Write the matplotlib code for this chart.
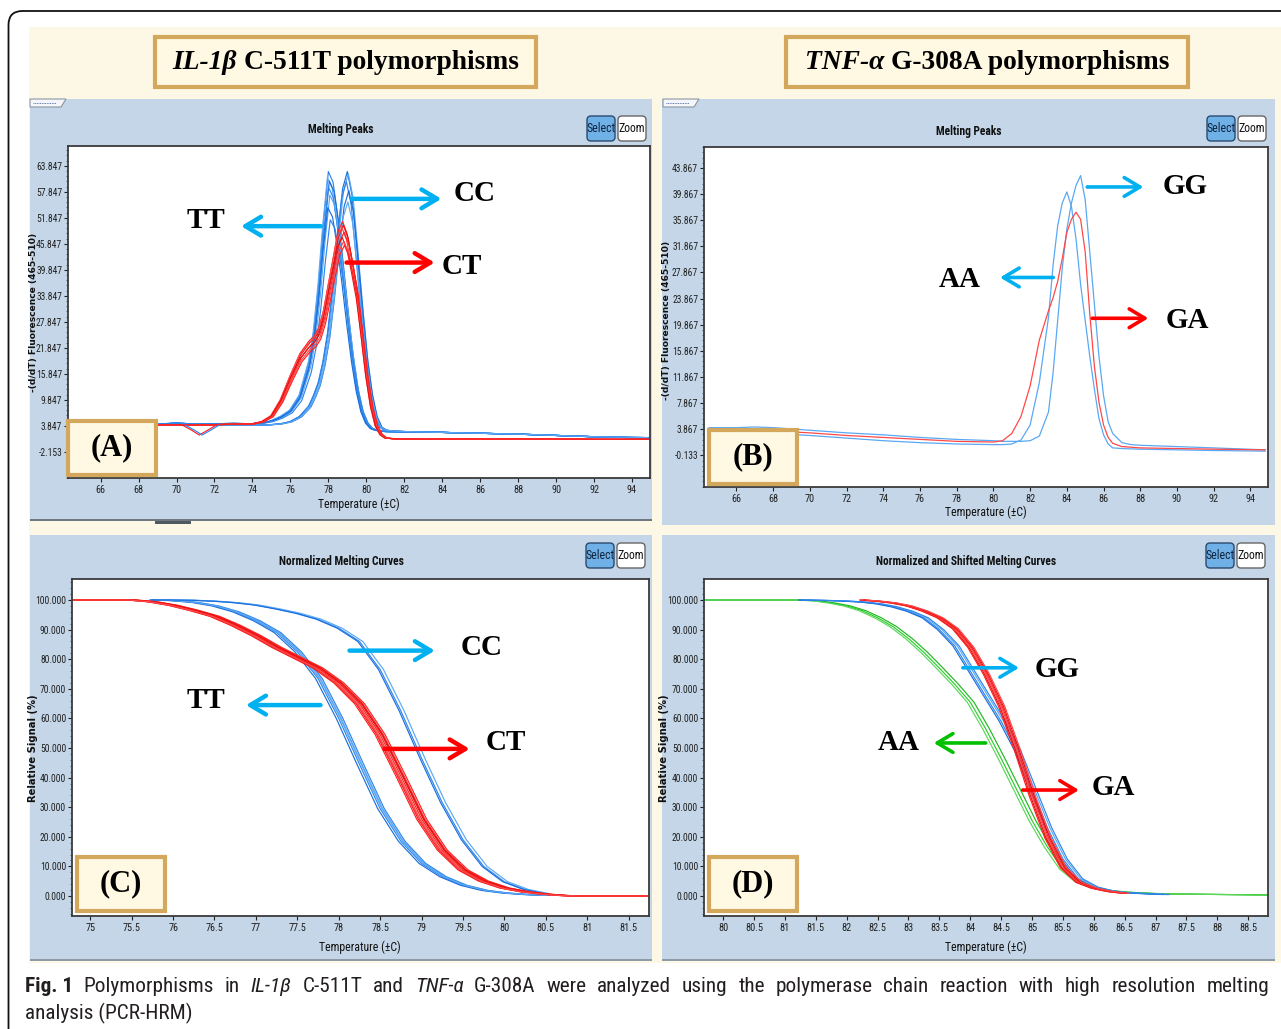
import numpy as np
import matplotlib
matplotlib.use("Agg")
import matplotlib.pyplot as plt
from matplotlib import font_manager
from matplotlib.patches import Rectangle, FancyBboxPatch, Polygon
from matplotlib.ticker import AutoMinorLocator

# ---------------- values ----------------
# (A) IL-1b C-511T, melting peaks  -(d/dT) fluorescence
temp_a = [64.5, 66, 67, 68, 69, 70, 71, 72, 73, 74, 74.5, 75, 75.5, 76, 76.5, 77, 77.25, 77.5,
          77.75, 78, 78.25, 78.5, 78.75, 79, 79.25, 79.5, 79.75, 80, 80.25, 80.5, 80.75, 81,
          81.5, 82, 84, 86, 88, 90, 92, 94.8]
tt_peak = [4.2, 4.3, 4.6, 4.4, 4.2, 4.5, 4.2, 4.3, 4.4, 4.3, 4.5, 5.0, 6.0, 7.5, 11, 19, 26, 37,
           51, 62.5, 60, 52, 42, 31, 21, 13, 7.5, 4.5, 3.2, 2.8, 2.6, 2.5,
           2.45, 2.4, 2.3, 2.1, 1.9, 1.6, 1.3, 1.0]
cc_peak = [4.0, 4.1, 4.1, 4.0, 4.0, 4.1, 4.0, 4.0, 4.0, 4.0, 4.0, 4.1, 4.3, 4.8, 6, 8.5, 11, 14,
           19, 26, 36, 48, 58.5, 62.5, 57, 45, 32, 20, 11.5, 6, 3.5, 2.8,
           2.6, 2.5, 2.3, 2.1, 1.9, 1.6, 1.3, 1.1]
ct_peak = [4.0, 4.0, 4.1, 4.0, 4.0, 4.1, 4.0, 4.1, 4.2, 4.3, 4.8, 6.2, 10, 15.5, 20.5, 23.5, 24.5, 26.5,
           30.5, 36.5, 42.5, 48.5, 51, 48, 42, 35.5, 26, 16, 8.5, 3.8, 1.8, 1.0,
           0.8, 0.8, 0.8, 0.8, 0.8, 0.8, 0.7, 0.7]
tt_heights = [62.5, 61.0, 60.2, 58.7, 56.7, 53.6, 50.6]
tt_shifts = [0.0, -0.05, 0.05, 0.0, 0.08, -0.03, 0.1]
cc_heights = [62.5, 62.0, 60.0, 57.8, 55.0]
cc_shifts = [0.0, 0.05, -0.05, 0.08, 0.03]
ct_heights = [51.0, 50.0, 49.5, 48.3, 47.0, 46.0, 45.0]
ct_shifts = [0.0, 0.04, -0.04, 0.08, -0.02, 0.06, 0.1]
dip_temp = [70.3, 70.8, 71.2, 71.6, 72.1]
dip_vals = [4.0, 2.8, 1.7, 2.7, 4.0]

# (B) TNF-a G-308A, melting peaks
temp_b = [64.5, 66, 67, 68, 70, 72, 74, 76, 78, 80, 80.5, 81, 81.5, 82, 82.5, 83, 83.25, 83.5,
          83.75, 84, 84.25, 84.5, 84.75, 85, 85.25, 85.5, 85.75, 86, 86.25, 86.5, 87, 87.5,
          88, 90, 92, 94.8]
gg_peak = [4.1, 4.1, 4.2, 4.1, 3.7, 3.3, 3.0, 2.6, 2.3, 2.1, 2.0, 2.0, 2.0, 2.1, 2.8, 6.5, 12.5, 20.5,
           28.5, 34.5, 38.5, 41.2, 42.7, 39, 31, 23, 15, 9, 5, 3.2, 1.8, 1.5,
           1.4, 1.2, 1.0, 0.7]
aa_peak = [3.4, 3.4, 3.3, 3.2, 2.9, 2.5, 2.1, 1.8, 1.6, 1.5, 1.5, 1.6, 2.2, 4.5, 11, 21, 29, 35,
           38.5, 40.2, 38, 33, 26, 20.5, 15, 10, 5.5, 3, 1.6, 1.0, 0.9, 0.85,
           0.8, 0.7, 0.6, 0.5]
ga_peak = [3.8, 3.8, 3.7, 3.6, 3.3, 2.9, 2.6, 2.3, 2.0, 1.9, 2.1, 3.2, 5.8, 10.5, 17.5, 22, 24, 26.5,
           30, 34, 36, 37.1, 36, 31, 21.5, 13.5, 8, 4.5, 2.6, 1.7, 1.2, 1.1,
           1.0, 0.9, 0.8, 0.7]

# (C) IL-1b normalized melting curves, relative signal (%)
nan = np.nan
temp_c = [74.6, 75.5, 75.75, 76, 76.25, 76.5, 76.75, 77, 77.25, 77.5, 77.75, 78, 78.25, 78.5,
          78.75, 79, 79.25, 79.5, 79.75, 80, 80.25, 80.5, 80.75, 81, 81.9]
tt_norm = [nan, nan, 100, 99.8, 99.2, 98, 96, 93, 89, 82.5, 73.5, 60, 44.5, 29.5,
           18.5, 11, 6.5, 3.6, 1.9, 1.0, 0.5, 0.2, nan, nan, nan]
cc_norm = [nan, nan, 100, 100, 99.9, 99.6, 99.1, 98.3, 97, 95.5, 93.5, 90.5, 86, 76.5,
           62.5, 46.5, 31.5, 19, 10, 4.8, 2.2, 0.8, nan, nan, nan]
ct_norm = [100, 100, 99.4, 98.2, 96.5, 94.5, 91.5, 88, 84, 80.5, 77, 72, 65, 54.5,
           40.5, 26, 15.5, 8.8, 5, 2.7, 1.4, 0.6, 0.1, 0, 0]
tt_norm_shifts = [0.0, 0.03, -0.03, 0.05, 0.02]
cc_norm_shifts = [0.0, 0.04, -0.02]
ct_norm_shifts = [-0.06, -0.04, -0.02, 0.0, 0.02, 0.04, 0.06, 0.03, -0.03]

# (D) TNF-a normalized and shifted melting curves
temp_d = [79.5, 81.25, 81.5, 81.75, 82, 82.25, 82.5, 82.75, 83, 83.25, 83.5, 83.75, 84, 84.25,
          84.5, 84.75, 85, 85.25, 85.5, 85.75, 86, 86.25, 86.5, 87, 87.15, 89.0]
aa_norm = [100, 100, 99.7, 99, 98, 96.4, 94, 91, 87, 82.3, 77, 71.5, 65.5, 56.5,
           46.5, 36, 25.5, 16.5, 9, 4.8, 2.8, 1.8, 1.3, 0.8, 0.7, 0.3]
gg_norm = [nan, 100, 99.9, 99.8, 99.6, 99.3, 98.7, 97.7, 96.2, 94, 90, 84.5, 76, 67.5,
           59, 49, 36, 23, 12.5, 5.8, 3, 1.7, 1.1, 0.6, 0.5, nan]
ga_norm = [nan, nan, nan, nan, nan, 100, 99.6, 99, 98, 96.3, 94, 90.3, 84, 75,
           64, 49.5, 33.5, 19.5, 9.5, 4.6, 2.6, 1.5, 0.9, nan, nan, nan]
aa_norm_shifts = [0.0, 0.06, -0.05]
gg_norm_shifts = [0.0, 0.04, -0.03, 0.07]
ga_norm_shifts = [-0.04, -0.02, 0.0, 0.02, 0.04, 0.06]

# axis ticks
yticks_a = [-2.153, 3.847, 9.847, 15.847, 21.847, 27.847, 33.847, 39.847, 45.847, 51.847, 57.847, 63.847]
yticks_b = [-0.133, 3.867, 7.867, 11.867, 15.867, 19.867, 23.867, 27.867, 31.867, 35.867, 39.867, 43.867]
xticks_ab = [66, 68, 70, 72, 74, 76, 78, 80, 82, 84, 86, 88, 90, 92, 94]
yticks_cd = [0, 10, 20, 30, 40, 50, 60, 70, 80, 90, 100]
xticks_c = [75, 75.5, 76, 76.5, 77, 77.5, 78, 78.5, 79, 79.5, 80, 80.5, 81, 81.5]
xticks_d = [80, 80.5, 81, 81.5, 82, 82.5, 83, 83.5, 84, 84.5, 85, 85.5, 86, 86.5, 87, 87.5, 88, 88.5]

# ---------------- style ----------------
W, H = 1281, 1029
CREAM = "#FDF8E5"
PANEL = "#C4D6E7"
GOLD = "#D4A85C"
BLUES = ["#2f86ea", "#5aa8f4", "#1b6fdc"]
REDS = ["#ff2020", "#e81010", "#ff4848"]
GREENS = ["#2ecc2e", "#1fb81f", "#5ad85a"]
CYAN_ARROW = "#00B0F0"
RED_ARROW = "#FF0000"
GREEN_ARROW = "#00C000"


def find_family(names):
    for n in names:
        try:
            font_manager.findfont(font_manager.FontProperties(family=n), fallback_to_default=False)
            return n
        except ValueError:
            continue
    return "DejaVu Sans"


NARROW = find_family(["Liberation Sans Narrow", "Roboto Condensed", "DejaVu Sans"])
SERIF = "Liberation Serif"

fig = plt.figure(figsize=(W / 100, H / 100), dpi=100)
fig.patch.set_facecolor("white")


def pixel_axes(z):
    a = fig.add_axes([0, 0, 1, 1], zorder=z)
    a.set_xlim(0, W)
    a.set_ylim(H, 0)
    a.axis("off")
    a.patch.set_alpha(0)
    return a


bg = pixel_axes(-1)
ov = pixel_axes(10)

# outer frame and backgrounds
bg.add_patch(FancyBboxPatch((8.5, 11), 1300, 1040, boxstyle="round,pad=0,rounding_size=14",
                            fc="white", ec="#111111", lw=1.3, clip_on=False))
bg.add_patch(Rectangle((29, 27), 1252, 936, fc=CREAM, ec="none"))
bg.add_patch(Rectangle((30, 99), 622, 421, fc=PANEL, ec="none"))
bg.add_patch(Rectangle((662, 99), 613, 426, fc=PANEL, ec="none"))
bg.add_patch(Rectangle((30, 535), 622, 424, fc=PANEL, ec="none"))
bg.add_patch(Rectangle((662, 535), 613, 424, fc=PANEL, ec="none"))
bg.add_patch(Rectangle((30, 518.5), 622, 2.5, fc="#6f7780", ec="none"))
bg.add_patch(Rectangle((155, 521), 36, 2.5, fc="#505860", ec="none"))
bg.add_patch(Rectangle((30, 958.5), 622, 2.5, fc="#8e9aa6", ec="none"))
bg.add_patch(Rectangle((662, 958.5), 613, 2.5, fc="#8e9aa6", ec="none"))
for x0 in (30, 663):
    bg.add_patch(Polygon([(x0, 99), (x0 + 36, 99), (x0 + 31, 107), (x0, 107)],
                         closed=True, fc="#f4f6f9", ec="#8a96a3", lw=0.8))
    bg.plot([x0 + 3, x0 + 26], [103, 103], color="#3050a0", lw=0.6, ls=(0, (1, 1)))


def make_axes(box, xlim, ylim, xticks, yticks, xlabels, ylabels):
    x0, y0, x1, y1 = box
    ax = fig.add_axes([x0 / W, 1 - y1 / H, (x1 - x0) / W, (y1 - y0) / H], zorder=2)
    ax.set_facecolor("white")
    ax.set_xlim(xlim)
    ax.set_ylim(ylim)
    ax.set_xticks(xticks)
    ax.set_xticklabels(xlabels)
    ax.set_yticks(yticks)
    ax.set_yticklabels(ylabels)
    ax.yaxis.set_minor_locator(AutoMinorLocator(5))
    ax.tick_params(axis="both", which="major", direction="out", length=3, width=0.8,
                   labelsize=6.9, pad=1.2, colors="#222222")
    ax.tick_params(axis="x", which="major", labelsize=7.4, pad=2)
    ax.tick_params(axis="y", which="minor", direction="out", length=1.8, width=0.6, colors="#555555")
    for lab in ax.get_xticklabels() + ax.get_yticklabels():
        lab.set_family([NARROW, "DejaVu Sans"])
    for s in ax.spines.values():
        s.set_color("#3a3a3a")
        s.set_linewidth(1.3)
    return ax


def draw_peaks(ax, temp, vals, heights, shifts, colors, floor=4.0):
    t = np.array(temp, dtype=float)
    v = np.array(vals, dtype=float)
    top = np.nanmax(v)
    for i, (h, s) in enumerate(zip(heights, shifts)):
        y = v + np.clip(v - floor, 0, None) * (h / top - 1)
        ax.plot(t + s, y, color=colors[i % len(colors)], lw=0.85)


def draw_curves(ax, temp, vals, shifts, colors):
    t = np.array(temp, dtype=float)
    v = np.array(vals, dtype=float)
    for i, s in enumerate(shifts):
        ax.plot(t + s, v, color=colors[i % len(colors)], lw=0.85)


def arrow(ax, tail, head, color, lw=3.2):
    ax.annotate("", xy=head, xytext=tail,
                arrowprops=dict(arrowstyle="->,head_length=0.75,head_width=0.45", color=color,
                                lw=lw, shrinkA=0, shrinkB=0, mutation_scale=15), zorder=6)


def label(ax, x, y, s):
    ax.text(x, y, s, ha="center", va="center", fontsize=21, family=SERIF,
            weight="bold", color="black", zorder=7)


fmt3 = lambda v: "%.3f" % v

# ---- panel A ----
ax_a = make_axes((68, 146, 650, 478), (64.28, 94.95), (-8.22, 68.4), xticks_ab, yticks_a,
                 [str(t) for t in xticks_ab], [fmt3(v) for v in yticks_a])
draw_peaks(ax_a, temp_a, tt_peak, tt_heights, tt_shifts, BLUES)
draw_peaks(ax_a, temp_a, cc_peak, cc_heights, cc_shifts, BLUES[::-1])
draw_peaks(ax_a, temp_a, ct_peak, ct_heights, ct_shifts, REDS)
ax_a.plot(dip_temp, dip_vals, color=REDS[0], lw=0.85)
ax_a.plot(np.array(dip_temp) + 0.15, dip_vals, color=BLUES[0], lw=0.85)
arrow(ax_a, (77.6, 49.9), (73.4, 49.9), CYAN_ARROW)
arrow(ax_a, (79.23, 56.2), (83.96, 56.2), CYAN_ARROW)
arrow(ax_a, (78.96, 41.5), (83.6, 41.5), RED_ARROW)
label(ax_a, 71.57, 51.3, "TT")
label(ax_a, 85.7, 57.5, "CC")
label(ax_a, 85.04, 40.7, "CT")

# ---- panel B ----
ax_b = make_axes((704, 147, 1268, 487), (64.23, 94.96), (-4.99, 47.08), xticks_ab, yticks_b,
                 [str(t) for t in xticks_ab], [fmt3(v) for v in yticks_b])
ax_b.plot(temp_b, aa_peak, color=BLUES[1], lw=0.9)
ax_b.plot(temp_b, gg_peak, color=BLUES[1], lw=0.9)
ax_b.plot(temp_b, ga_peak, color=REDS[2], lw=0.9)
arrow(ax_b, (85.11, 40.96), (88.17, 40.96), CYAN_ARROW, lw=2.6)
arrow(ax_b, (83.26, 27.1), (80.36, 27.1), CYAN_ARROW, lw=2.6)
arrow(ax_b, (85.38, 20.85), (88.44, 20.85), RED_ARROW, lw=2.6)
label(ax_b, 90.43, 41.0, "GG")
label(ax_b, 78.18, 26.8, "AA")
label(ax_b, 90.57, 20.5, "GA")

# ---- panel C ----
ax_c = make_axes((72, 579, 649, 916), (74.78, 81.745), (-6.76, 107.1), xticks_c, yticks_cd,
                 ["%g" % t for t in xticks_c], [fmt3(v) for v in yticks_cd])
draw_curves(ax_c, temp_c, tt_norm, tt_norm_shifts, BLUES)
draw_curves(ax_c, temp_c, cc_norm, cc_norm_shifts, BLUES)
draw_curves(ax_c, temp_c, ct_norm, ct_norm_shifts, REDS)
arrow(ax_c, (78.13, 82.9), (79.16, 82.9), CYAN_ARROW)
arrow(ax_c, (78.55, 49.7), (79.58, 49.7), RED_ARROW)
arrow(ax_c, (77.78, 64.5), (76.88, 64.5), CYAN_ARROW)
label(ax_c, 79.73, 83.8, "CC")
label(ax_c, 80.02, 52.0, "CT")
label(ax_c, 76.40, 66.2, "TT")

# ---- panel D ----
ax_d = make_axes((704, 579, 1268, 916), (79.69, 88.82), (-6.76, 107.1), xticks_d, yticks_cd,
                 ["%g" % t for t in xticks_d], [fmt3(v) for v in yticks_cd])
draw_curves(ax_d, temp_d, aa_norm, aa_norm_shifts, GREENS)
draw_curves(ax_d, temp_d, gg_norm, gg_norm_shifts, BLUES)
draw_curves(ax_d, temp_d, ga_norm, ga_norm_shifts, REDS)
arrow(ax_d, (83.88, 77.1), (84.79, 77.1), CYAN_ARROW, lw=2.6)
arrow(ax_d, (84.25, 51.7), (83.41, 51.7), GREEN_ARROW, lw=2.6)
arrow(ax_d, (84.85, 35.8), (85.76, 35.8), RED_ARROW, lw=2.6)
label(ax_d, 85.41, 76.4, "GG")
label(ax_d, 82.85, 51.7, "AA")
label(ax_d, 86.32, 36.5, "GA")

# ---- panel furniture (titles, axis labels, buttons, letter boxes) ----
titles = [(341, 130, "Melting Peaks"), (969, 131, "Melting Peaks"),
          (341, 561, "Normalized Melting Curves"), (966, 561, "Normalized and Shifted Melting Curves")]
for x, y, s in titles:
    ov.text(x, y, s, ha="center", va="center", fontsize=8.3, weight="bold",
            family=[NARROW, "DejaVu Sans"], color="#111111")

xlabels = [(359, 504), (986, 512), (360, 947), (986, 947)]
for x, y in xlabels:
    ov.text(x, y, "Temperature (\u00b1C)", ha="center", va="center", fontsize=8.5,
            family=[NARROW, "DejaVu Sans"], color="#111111")

ylabels = [(34, 312, "-(d/dT) Fluorescence (465-510)", 6.6), (667, 320, "-(d/dT) Fluorescence (465-510)", 6.6),
           (33, 748, "Relative Signal (%)", 7.2), (664, 748, "Relative Signal (%)", 7.2)]
for x, y, s, fs in ylabels:
    ov.text(x, y, s, ha="center", va="center", rotation=90, fontsize=fs, weight="bold",
            color="#111111")

for sx, sy in [(587, 116), (1207, 116), (586, 543), (1206, 543)]:
    ov.add_patch(FancyBboxPatch((sx, sy), 28, 25, boxstyle="round,pad=0,rounding_size=4",
                                fc="#6fb0e6", ec="#2a4a70", lw=1.0))
    ov.text(sx + 14, sy + 12.5, "Select", ha="center", va="center", fontsize=8.5,
            family=[NARROW, "DejaVu Sans"], color="#10233d")
    ov.add_patch(FancyBboxPatch((sx + 31, sy), 28, 25, boxstyle="round,pad=0,rounding_size=4",
                                fc="white", ec="#666666", lw=1.0))
    ov.text(sx + 45, sy + 12.5, "Zoom", ha="center", va="center", fontsize=8.5,
            family=[NARROW, "DejaVu Sans"], color="#111111")

for bx, by, s in [(68, 421, "(A)"), (709, 430, "(B)"), (77, 857, "(C)"), (709, 857, "(D)")]:
    ov.add_patch(Rectangle((bx, by), 88, 54, fc="#FFF8E3", ec=GOLD, lw=3))
    ov.text(bx + 44, by + 27, s, ha="center", va="center", fontsize=22, family=SERIF,
            weight="bold", color="black")

# ---- header boxes with mixed italic / bold text ----
renderer = fig.canvas.get_renderer()


def text_width(s, **kw):
    t = ov.text(0, 0, s, **kw)
    w = t.get_window_extent(renderer).width
    t.remove()
    return w


def rich_line(cx, y, parts, size, family, color="black", justify=None):
    widths = []
    for s, weight, style in parts:
        widths.append(text_width(s, fontsize=size, family=family, weight=weight, style=style))
    sp = (text_width("n n", fontsize=size, family=family) - text_width("nn", fontsize=size, family=family))
    if justify is not None:
        left, right = justify
        gap = (right - left - sum(widths)) / (len(parts) - 1)
        x = left
    else:
        gap = sp
        total = sum(widths) + gap * (len(parts) - 1)
        x = cx - total / 2 if cx is not None else 0
    for (s, weight, style), w in zip(parts, widths):
        ov.text(x, y, s, fontsize=size, family=family, weight=weight, style=style,
                ha="left", va="baseline", color=color)
        x += w + gap


ov.add_patch(Rectangle((155, 36.5), 381, 50, fc="#FFF8E3", ec=GOLD, lw=3))
ov.add_patch(Rectangle((786, 36.5), 402, 50, fc="#FFF8E3", ec=GOLD, lw=3))
rich_line(345.5, 69, [("IL-1\u03b2", "bold", "italic"), ("C-511T polymorphisms", "bold", "normal")],
          19.8, [SERIF, "DejaVu Serif"])
rich_line(987, 69, [("TNF-\u03b1", "bold", "italic"), ("G-308A polymorphisms", "bold", "normal")],
          19.8, [SERIF, "DejaVu Serif"])

# ---- caption ----
cap_family = [NARROW, "DejaVu Sans"]
line1 = [("Fig. 1", "bold", "normal"), ("Polymorphisms", "normal", "normal"),
         ("in", "normal", "normal"), ("IL-1\u03b2", "normal", "italic"), ("C-511T", "normal", "normal"),
         ("and", "normal", "normal"), ("TNF-\u03b1", "normal", "italic"), ("G-308A", "normal", "normal"),
         ("were", "normal", "normal"), ("analyzed", "normal", "normal"), ("using", "normal", "normal"),
         ("the", "normal", "normal"), ("polymerase", "normal", "normal"), ("chain", "normal", "normal"),
         ("reaction", "normal", "normal"), ("with", "normal", "normal"), ("high", "normal", "normal"),
         ("resolution", "normal", "normal"), ("melting", "normal", "normal")]
rich_line(None, 992, line1, 15.3, cap_family, color="#231f20", justify=(25, 1269))
ov.text(25, 1019, "analysis (PCR-HRM)", fontsize=15.3, family=cap_family, ha="left",
        va="baseline", color="#231f20")

fig.savefig("out.png", dpi=100)
